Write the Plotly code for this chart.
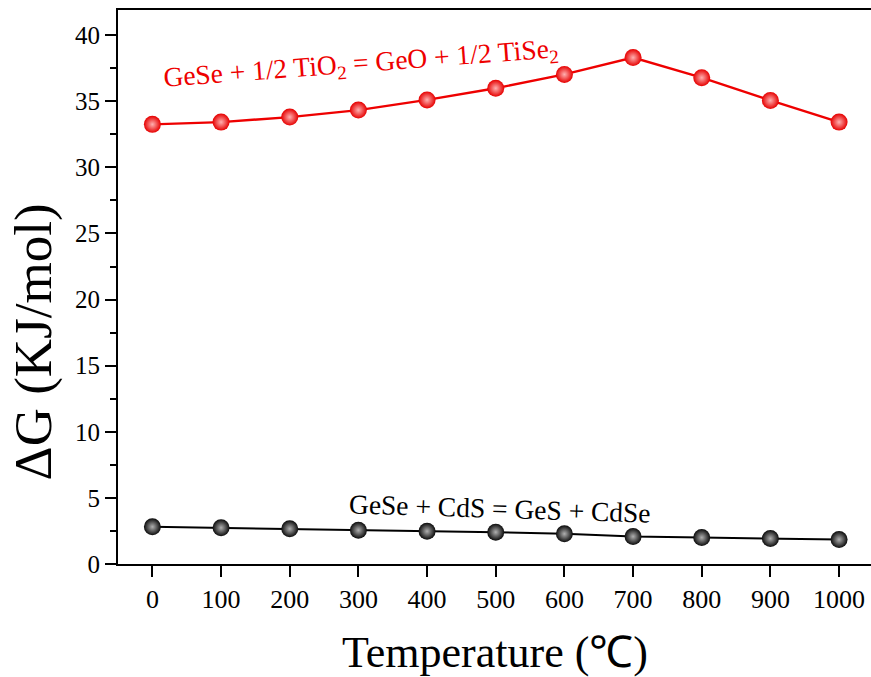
import plotly.graph_objects as go

temperature = [0, 100, 200, 300, 400, 500, 600, 700, 800, 900, 1000]
dg_tio2 = [33.25, 33.42, 33.8, 34.33, 35.1, 35.98, 37.03, 38.3, 36.78, 35.06, 33.42]
dg_cds = [2.81, 2.74, 2.66, 2.56, 2.48, 2.41, 2.28, 2.08, 2.0, 1.93, 1.85]
x_ticks = [0, 100, 200, 300, 400, 500, 600, 700, 800, 900, 1000]
y_ticks = [0, 5, 10, 15, 20, 25, 30, 35, 40]

label_tio2 = "GeSe + 1/2 TiO<sub>2</sub> = GeO + 1/2 TiSe<sub>2</sub>"
label_cds = "GeSe + CdS = GeS + CdSe"
x_title = "Temperature (℃)"
y_title = "ΔG (KJ/mol)"

FONT = "Liberation Serif, Times New Roman, serif"

fig = go.Figure()
fig.add_trace(go.Scatter(
    x=temperature, y=dg_tio2, mode="lines+markers",
    line=dict(color="#ee0000", width=2.4),
    marker=dict(size=17, color="#e60000", line=dict(width=0),
                gradient=dict(type="radial", color="#ffb0b0")),
    showlegend=False,
))
fig.add_trace(go.Scatter(
    x=temperature, y=dg_cds, mode="lines+markers",
    line=dict(color="#000000", width=2),
    marker=dict(size=17, color="#0a0a0a", line=dict(width=0),
                gradient=dict(type="radial", color="#b0b0b0")),
    showlegend=False,
))

fig.add_annotation(x=304, y=37.8, xref="x", yref="y", text=label_tio2,
                   showarrow=False, textangle=-4.3,
                   font=dict(family=FONT, size=27.5, color="#ee0000"))
fig.add_annotation(x=506, y=4.2, xref="x", yref="y", text=label_cds,
                   showarrow=False, textangle=1.75,
                   font=dict(family=FONT, size=27.5, color="#000000"))

fig.add_annotation(x=0.5, y=0, xref="paper", yref="paper", text=x_title,
                   showarrow=False, yanchor="middle", yshift=-88,
                   font=dict(family=FONT, size=44, color="#000000"))
fig.add_annotation(x=0, y=0.40, xref="paper", yref="paper", text=y_title,
                   showarrow=False, xanchor="center", xshift=-85, textangle=-90,
                   font=dict(family=FONT, size=53, color="#000000"))

fig.update_xaxes(
    range=[-50.1, 1046.5], tickvals=x_ticks, ticktext=[str(v) for v in x_ticks],
    ticks="outside", ticklen=11, tickwidth=2, tickcolor="#000",
    showline=True, linewidth=2, linecolor="#000", mirror=True,
    showgrid=False, zeroline=False,
    tickfont=dict(family=FONT, size=26, color="#000"),
)
fig.update_yaxes(
    range=[0, 41.9], tickvals=y_ticks, ticktext=[str(v) for v in y_ticks],
    ticks="outside", ticklen=11, tickwidth=2, tickcolor="#000",
    minor=dict(dtick=2.5, tick0=0, ticks="outside", ticklen=6, tickwidth=2, tickcolor="#000"),
    showline=True, linewidth=2, linecolor="#000",
    showgrid=False, zeroline=False,
    tickfont=dict(family=FONT, size=25, color="#000"),
)

fig.update_layout(
    width=871, height=677,
    margin=dict(l=118, r=0, t=10, b=113),
    plot_bgcolor="white", paper_bgcolor="white",
)

fig.write_html(
    "out.html",
    config={"displayModeBar": False},
    post_script="document.body.style.margin='0';document.body.style.overflow='hidden';",
)
